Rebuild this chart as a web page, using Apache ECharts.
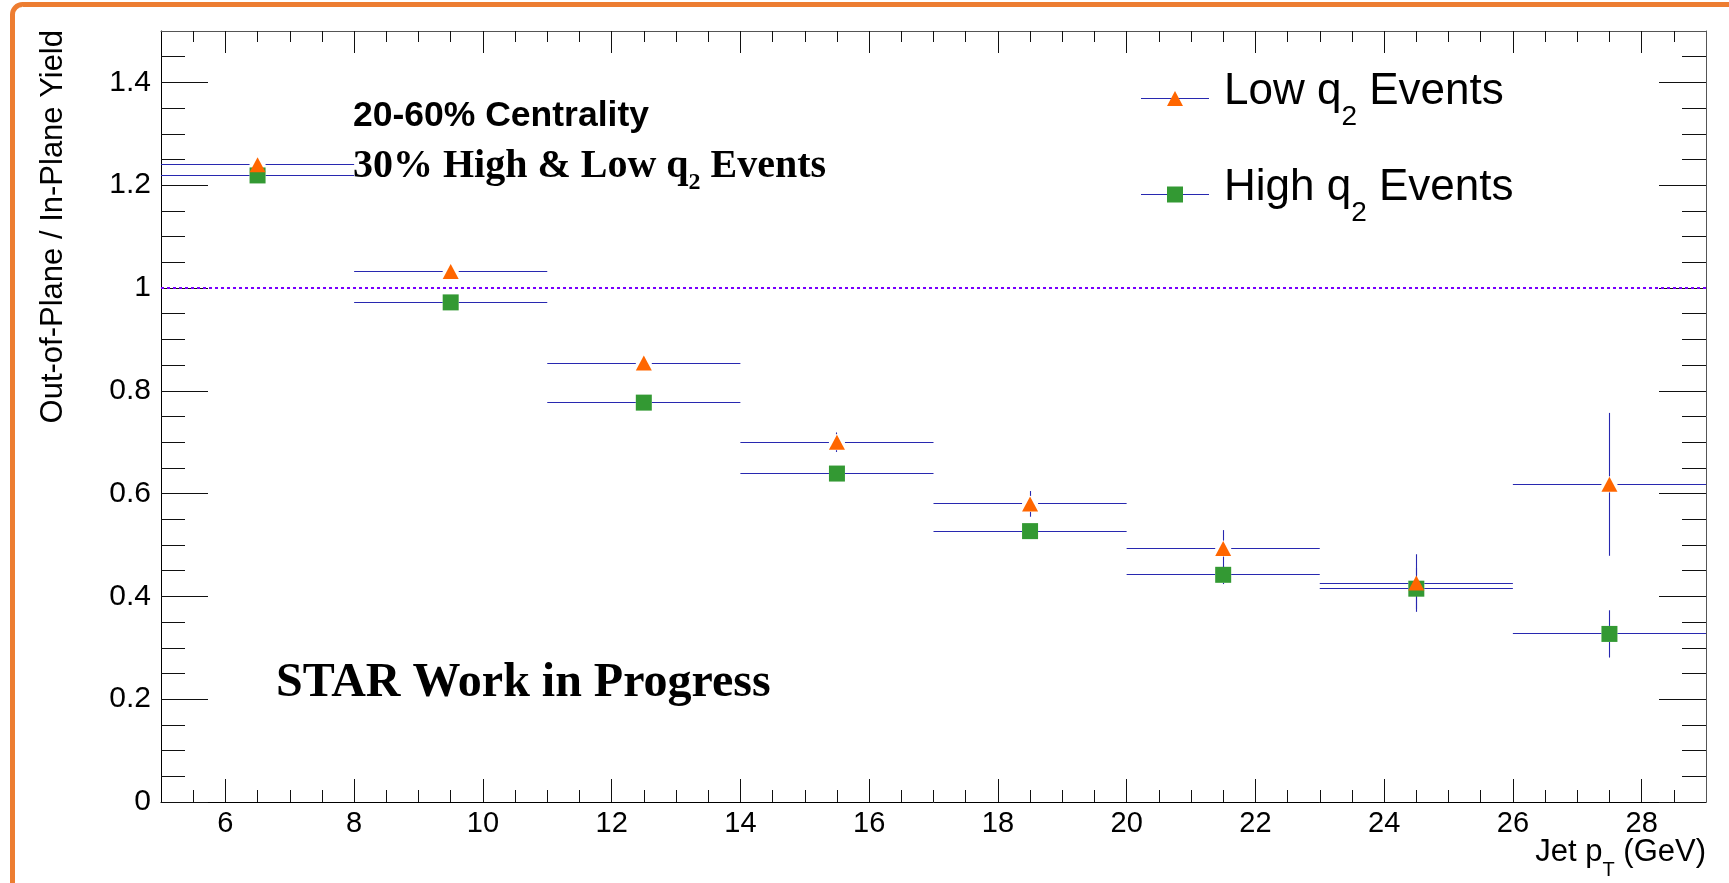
<!DOCTYPE html>
<html>
<head>
<meta charset="utf-8">
<script src="https://cdn.jsdelivr.net/npm/echarts@6/dist/echarts.min.js"></script>
<style>
  html, body { margin: 0; padding: 0; background: #fff; }
  #chart { width: 1729px; height: 883px; }
</style>
</head>
<body>
<div id="chart"></div>
<script>
// Jet pT bins (GeV): centres and half-widths
const binCenters    = [6.5, 9.5, 12.5, 15.5, 18.5, 21.5, 24.5, 27.5];
const binHalfWidths = [1.5, 1.5, 1.5, 1.5, 1.5, 1.5, 1.5, 1.5];

// Out-of-plane / in-plane yield ratio, low q2 events
const lowQ2Ratio = [1.240, 1.032, 0.854, 0.700, 0.580, 0.493, 0.426, 0.618];
const lowQ2Err   = [0.010, 0.012, 0.012, 0.019, 0.025, 0.036, 0.056, 0.139];

// Out-of-plane / in-plane yield ratio, high q2 events
const highQ2Ratio = [1.219, 0.972, 0.777, 0.639, 0.527, 0.442, 0.415, 0.327];
const highQ2Err   = [0.008, 0.010, 0.010, 0.012, 0.013, 0.018, 0.040, 0.046];

// Dotted reference line at unity
const unityLineX = [5, 29.3];
const unityLineY = [1, 1];

// Axis ranges and labelled ticks
const xRange = [5, 29];
const yRange = [0, 1.5];
const xMajorTicks = [6, 8, 10, 12, 14, 16, 18, 20, 22, 24, 26, 28];
const yMajorTicks = [0, 0.2, 0.4, 0.6, 0.8, 1, 1.2, 1.4];
const xMinorStep = 0.5;
const yMinorStep = 0.05;

const FONT = 'Liberation Sans, Arial, Helvetica, sans-serif';
const SERIF = 'Liberation Serif, Times New Roman, serif';
const ERR_COLOR = '#2828b0';

function minorTicks(range, step, majors) {
  const out = [];
  const n = Math.round((range[1] - range[0]) / step);
  for (let i = 1; i < n; i++) {
    const v = +(range[0] + i * step).toFixed(6);
    if (!majors.some(m => Math.abs(m - v) < 1e-9)) out.push(v);
  }
  return out;
}
const xMinorTicks = minorTicks(xRange, xMinorStep, xMajorTicks);
const yMinorTicks = minorTicks(yRange, yMinorStep, yMajorTicks);

function axis(range, position, ticks, tickLen, opts) {
  opts = opts || {};
  return {
    type: 'value',
    position: position,
    min: range[0],
    max: range[1],
    splitLine: { show: false },
    axisLine: { show: !!opts.line, onZero: false, lineStyle: { color: opts.lineColor || '#000', width: 1 } },
    axisTick: { show: true, inside: true, length: tickLen, customValues: ticks, lineStyle: { color: '#111', width: 1 } },
    axisLabel: opts.labels ? Object.assign({ show: true, customValues: ticks, color: '#000', fontFamily: FONT }, opts.labels) : { show: false },
    axisPointer: { show: false }
  };
}

// Horizontal bar spans the bin, vertical bar the uncertainty; both stop short of the marker
function errorBarItem(params, api) {
  const x = api.value(0), y = api.value(1), ex = api.value(2), ey = api.value(3);
  const c = api.coord([x, y]);
  const left = api.coord([x - ex, y])[0];
  const right = api.coord([x + ex, y])[0];
  const top = api.coord([x, y + ey])[1];
  const bottom = api.coord([x, y - ey])[1];
  const cy = Math.round(c[1] - 0.5) + 0.5;
  const cx = Math.round(c[0] - 0.5) + 0.5;
  const gap = 8;
  const style = { stroke: api.visual('color'), lineWidth: 1.1 };
  const children = [
    { type: 'line', shape: { x1: left, y1: cy, x2: c[0] - gap, y2: cy }, style: style },
    { type: 'line', shape: { x1: c[0] + gap, y1: cy, x2: right, y2: cy }, style: style }
  ];
  if (top < c[1] - gap) children.push({ type: 'line', shape: { x1: cx, y1: top, x2: cx, y2: c[1] - gap }, style: style });
  if (bottom > c[1] + gap) children.push({ type: 'line', shape: { x1: cx, y1: c[1] + gap, x2: cx, y2: bottom }, style: style });
  return { type: 'group', children: children };
}

function points(values) { return binCenters.map((x, i) => [x, values[i]]); }
function errRows(values, errs) { return binCenters.map((x, i) => [x, values[i], binHalfWidths[i], errs[i]]); }

const chart = echarts.init(document.getElementById('chart'), null, { renderer: 'canvas' });

chart.setOption({
  animation: false,
  backgroundColor: '#ffffff',
  grid: { left: 161, right: 23, top: 31, bottom: 81, containLabel: false },
  xAxis: [
    axis(xRange, 'bottom', xMajorTicks, 23, { line: true, labels: { fontSize: 29, lineHeight: 30, margin: 7 } }),
    axis(xRange, 'bottom', xMinorTicks, 12),
    axis(xRange, 'top', xMajorTicks, 22, { line: true, lineColor: '#555' }),
    axis(xRange, 'top', xMinorTicks, 11)
  ],
  yAxis: [
    axis(yRange, 'left', yMajorTicks, 47, { line: true, labels: { fontSize: 30, margin: 10 } }),
    axis(yRange, 'left', yMinorTicks, 24),
    axis(yRange, 'right', yMajorTicks, 47, { line: true, lineColor: '#555' }),
    axis(yRange, 'right', yMinorTicks, 24)
  ],
  series: [
    {
      name: 'unity',
      type: 'line',
      data: unityLineX.map((x, i) => [x, unityLineY[i]]),
      symbol: 'none',
      clip: false,
      silent: true,
      z: 1,
      lineStyle: { color: '#7a00ff', width: 2, type: [3, 3] }
    },
    {
      name: 'Low q2 errors',
      type: 'custom',
      renderItem: errorBarItem,
      data: errRows(lowQ2Ratio, lowQ2Err),
      encode: { x: 0, y: 1 },
      itemStyle: { color: ERR_COLOR },
      clip: false,
      silent: true,
      z: 2
    },
    {
      name: 'High q2 errors',
      type: 'custom',
      renderItem: errorBarItem,
      data: errRows(highQ2Ratio, highQ2Err),
      encode: { x: 0, y: 1 },
      itemStyle: { color: ERR_COLOR },
      clip: false,
      silent: true,
      z: 2
    },
    {
      name: 'High q2 Events',
      type: 'scatter',
      data: points(highQ2Ratio),
      symbol: 'rect',
      symbolSize: 16,
      itemStyle: { color: '#339933', opacity: 1 },
      silent: true,
      z: 3
    },
    {
      name: 'Low q2 Events',
      type: 'scatter',
      data: points(lowQ2Ratio),
      symbol: 'triangle',
      symbolSize: [16, 15],
      itemStyle: { color: '#ff6600', opacity: 1 },
      silent: true,
      z: 4
    }
  ],
  graphic: [
    // page frame
    {
      type: 'rect', silent: true, z: 100,
      shape: { x: 12.5, y: 4.5, width: 2000, height: 2000, r: 10 },
      style: { fill: 'none', stroke: '#ed7d31', lineWidth: 5 }
    },
    // axis titles
    {
      type: 'text', x: 53, y: 30, rotation: Math.PI / 2, silent: true,
      style: { text: 'Out-of-Plane / In-Plane Yield', align: 'right', verticalAlign: 'middle',
               fontSize: 31, fontFamily: FONT, fill: '#000' }
    },
    {
      type: 'text', x: 1706, y: 852, silent: true,
      style: {
        text: 'Jet p{sub|T} (GeV)', align: 'right', verticalAlign: 'middle',
        fontSize: 31, fontFamily: FONT, fill: '#000',
        rich: { sub: { fontSize: 20, fontFamily: FONT, fill: '#000', padding: [37, 0, 0, 0] } }
      }
    },
    // annotations
    {
      type: 'text', x: 353, y: 116, silent: true,
      style: { text: '20-60% Centrality', align: 'left', verticalAlign: 'middle',
               fontSize: 35.5, fontWeight: 'bold', fontFamily: FONT, fill: '#000' }
    },
    {
      type: 'text', x: 353, y: 167, silent: true,
      style: {
        text: '30% High & Low q{sub|2} Events', align: 'left', verticalAlign: 'middle',
        fontSize: 40, fontWeight: 'bold', fontFamily: SERIF, fill: '#000',
        rich: { sub: { fontSize: 24, fontWeight: 'bold', fontFamily: SERIF, fill: '#000', padding: [31, 0, 0, 0] } }
      }
    },
    {
      type: 'text', x: 276, y: 684, silent: true,
      style: { text: 'STAR Work in Progress', align: 'left', verticalAlign: 'middle',
               fontSize: 48, fontWeight: 'bold', fontFamily: SERIF, fill: '#000' }
    },
    // legend
    {
      type: 'group', silent: true,
      children: [
        { type: 'line', shape: { x1: 1141, y1: 98.5, x2: 1209, y2: 98.5 }, style: { stroke: ERR_COLOR, lineWidth: 1.1 } },
        { type: 'polygon', shape: { points: [[1175, 91], [1183, 106], [1167, 106]] }, style: { fill: '#ff6600' } },
        {
          type: 'text', x: 1224, y: 91.5,
          style: {
            text: 'Low q{sub|2} Events', align: 'left', verticalAlign: 'middle',
            fontSize: 44, fontFamily: FONT, fill: '#000',
            rich: { sub: { fontSize: 28, fontFamily: FONT, fill: '#000', padding: [52, 0, 0, 0] } }
          }
        },
        { type: 'line', shape: { x1: 1141, y1: 194.5, x2: 1209, y2: 194.5 }, style: { stroke: ERR_COLOR, lineWidth: 1.1 } },
        { type: 'rect', shape: { x: 1167, y: 186.5, width: 16, height: 16 }, style: { fill: '#339933' } },
        {
          type: 'text', x: 1224, y: 188,
          style: {
            text: 'High q{sub|2} Events', align: 'left', verticalAlign: 'middle',
            fontSize: 44, fontFamily: FONT, fill: '#000',
            rich: { sub: { fontSize: 28, fontFamily: FONT, fill: '#000', padding: [50, 0, 0, 0] } }
          }
        }
      ]
    }
  ]
});
</script>
</body>
</html>
